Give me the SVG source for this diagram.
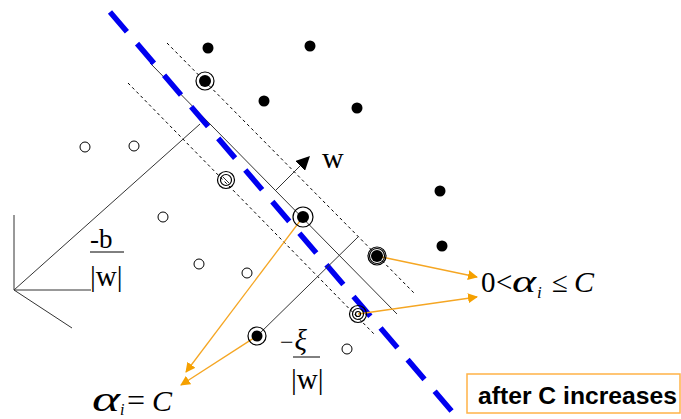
<svg xmlns="http://www.w3.org/2000/svg" width="681" height="419" viewBox="0 0 681 419">
<style>
.dot{fill:#000}
.open{fill:#fff;stroke:#000;stroke-width:1}
.ring{fill:none;stroke:#000;stroke-width:1.2}
.margin{fill:none;stroke:#000;stroke-width:1;stroke-dasharray:3 3}
.thin{fill:none;stroke:#333;stroke-width:1}
.orange{fill:none;stroke:#F5A623;stroke-width:1.3}
.serif{font-family:"Liberation Serif","Times New Roman",serif;fill:#000}
.it{font-style:italic}
</style>
<defs>
<marker id="oa" viewBox="0 0 10 10" refX="9" refY="5" markerWidth="10" markerHeight="10" markerUnits="userSpaceOnUse" orient="auto">
<path d="M0,0 L10,5 L0,10 z" fill="#F5A000"/>
</marker>
<marker id="ba" viewBox="0 0 10 10" refX="9" refY="5" markerWidth="14" markerHeight="14" markerUnits="userSpaceOnUse" orient="auto">
<path d="M0,0 L10,5 L0,10 z" fill="#000"/>
</marker>
</defs>
<rect width="681" height="419" fill="#fff"/>

<g id="axes">
<line class="thin" x1="14" y1="215" x2="14" y2="290" stroke="#000"/>
<line class="thin" x1="14" y1="290" x2="91" y2="290"/>
<line class="thin" x1="14" y1="290" x2="72" y2="328"/>
<line class="thin" x1="14" y1="290" x2="200" y2="124"/>
</g>

<g id="margins">
<line class="margin" x1="167" y1="43" x2="415" y2="294"/>
<line class="margin" x1="128" y1="83" x2="375" y2="335"/>
<line class="thin" x1="150" y1="63" x2="397" y2="314"/>
</g>

<g id="blue-line">
<line x1="110" y1="12" x2="455" y2="415" stroke="#0000F0" stroke-width="5.5" stroke-dasharray="26 15.6"/>
</g>

<g id="connectors">
<line class="thin" x1="275" y1="191" x2="309" y2="157" marker-end="url(#ba)"/>
<line class="thin" x1="257" y1="336" x2="358" y2="237"/>
<line class="orange" x1="303" y1="217" x2="186" y2="372" marker-end="url(#oa)"/>
<line class="orange" x1="257" y1="336" x2="181" y2="385" marker-end="url(#oa)"/>
<line class="orange" x1="377" y1="256" x2="477" y2="277" marker-end="url(#oa)"/>
<line class="orange" x1="358" y1="314" x2="477" y2="297" marker-end="url(#oa)"/>
</g>

<g id="filled-points">
<circle class="dot" cx="208" cy="48" r="5.5"/>
<circle class="dot" cx="310" cy="46" r="5.5"/>
<circle class="dot" cx="264" cy="101" r="5.5"/>
<circle class="dot" cx="357" cy="108" r="5.5"/>
<circle class="dot" cx="440" cy="191" r="5.5"/>
<circle class="dot" cx="442" cy="246" r="5.5"/>
</g>

<g id="open-points">
<circle class="open" cx="85" cy="147" r="5"/>
<circle class="open" cx="134" cy="146" r="5"/>
<circle class="open" cx="163" cy="217" r="5"/>
<circle class="open" cx="199" cy="264" r="5"/>
<circle class="open" cx="247" cy="273" r="5"/>
<circle class="open" cx="347" cy="349" r="5"/>
</g>

<g id="sv1"><circle class="ring" cx="205" cy="81" r="9"/><circle class="dot" cx="205" cy="81" r="6"/></g>
<g id="sv2"><circle class="ring" cx="226" cy="180" r="8.5"/><circle class="ring" cx="226" cy="180" r="5.5"/><line x1="223" y1="177" x2="229" y2="183" stroke="#000" stroke-width="0.8"/></g>
<g id="sv3"><circle class="ring" cx="303" cy="217" r="10"/><circle class="dot" cx="303" cy="217" r="6"/></g>
<g id="sv4"><circle class="ring" cx="377" cy="256" r="9"/><circle class="ring" cx="377" cy="256" r="7.5"/><circle class="dot" cx="377" cy="256" r="6"/></g>
<g id="sv5"><circle class="ring" cx="358" cy="314" r="8.5"/><circle class="ring" cx="358" cy="314" r="5.5"/><circle class="ring" cx="358" cy="314" r="2.5" stroke-width="0.8"/></g>
<g id="sv6"><circle class="ring" cx="257" cy="336" r="9"/><circle class="dot" cx="257" cy="336" r="5.5"/></g>

<g id="labels">
<text class="serif" x="322" y="168" font-size="30">w</text>
<text class="serif" x="90" y="248" font-size="27">-b</text>
<line x1="90" y1="252" x2="124" y2="252" stroke="#000" stroke-width="1"/>
<text class="serif" x="90" y="286" font-size="29">|w|</text>
<text class="serif" x="280" y="350" font-size="24">−<tspan class="it" dx="1" font-size="29">ξ</tspan></text>
<line x1="293" y1="357" x2="320" y2="357" stroke="#000" stroke-width="1"/>
<text class="serif" x="291" y="389" font-size="29">|w|</text>
<text class="serif" x="481" y="292" font-size="29">0</text>
<text class="serif" x="496" y="292" font-size="29">&lt;</text>
<text class="serif it" x="512" y="292" font-size="32" textLength="24" lengthAdjust="spacingAndGlyphs">α</text>
<text class="serif it" x="537" y="298" font-size="17">i</text>
<text class="serif" x="552" y="292" font-size="29">≤</text>
<text class="serif it" x="574" y="292" font-size="30">C</text>
<text class="serif it" x="92" y="411" font-size="36" textLength="28" lengthAdjust="spacingAndGlyphs">α</text>
<text class="serif it" x="120" y="415" font-size="16">i</text>
<text class="serif" x="127" y="411" font-size="32">=</text>
<text class="serif it" x="152" y="411" font-size="30">C</text>
</g>

<g id="note">
<rect x="467" y="374" width="213" height="39" fill="#fff" stroke="#FFB347" stroke-width="1.5"/>
<text x="478" y="404" font-family="'Liberation Sans',Arial,sans-serif" font-weight="bold" font-size="24" textLength="199" lengthAdjust="spacingAndGlyphs" fill="#000">after C increases</text>
</g>
</svg>
